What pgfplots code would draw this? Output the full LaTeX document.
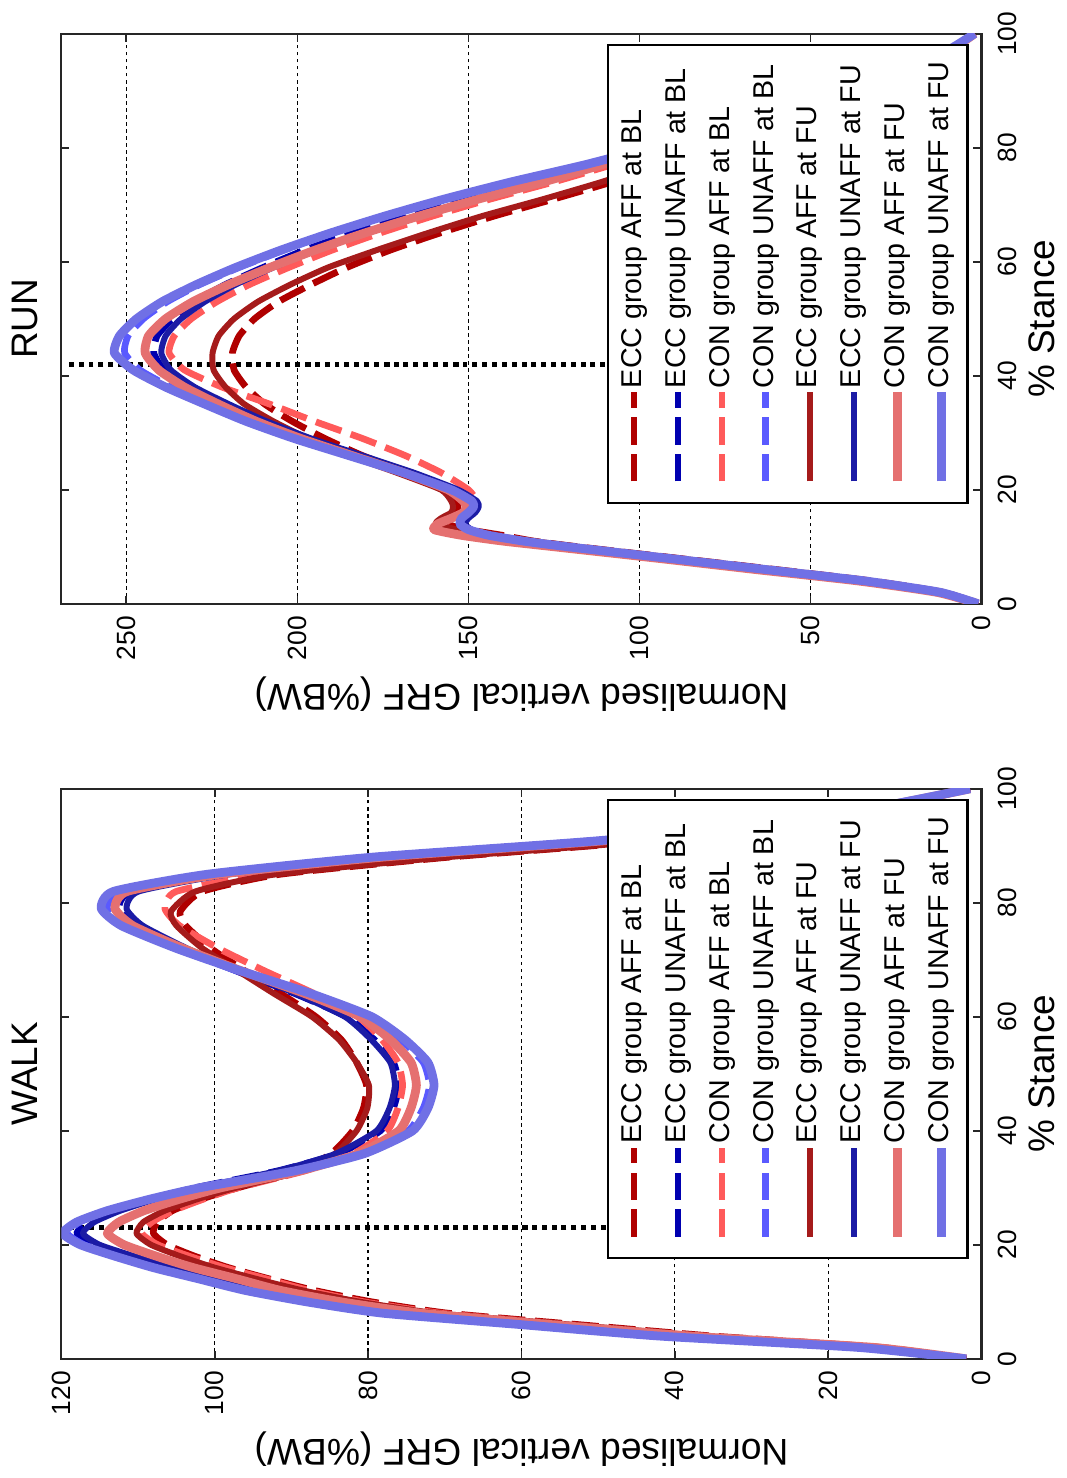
\documentclass[border=0pt]{standalone}
\usepackage{pgfplots}
\pgfplotsset{compat=1.18}
\usepackage{fontspec}
\setmainfont{Liberation Sans}

\definecolor{eccaffbl}{RGB}{176,0,0}
\definecolor{eccunaffbl}{RGB}{0,0,176}
\definecolor{conaffbl}{RGB}{255,90,90}
\definecolor{conunaffbl}{RGB}{90,90,255}
\definecolor{eccafffu}{RGB}{165,27,27}
\definecolor{eccunafffu}{RGB}{27,27,165}
\definecolor{conafffu}{RGB}{229,112,112}
\definecolor{conunafffu}{RGB}{112,112,229}

\pgfplotsset{
  grfaxis/.style={
    scale only axis, width=57mm, height=92mm,
    xmin=0, xmax=100, xtick={0,20,...,100},
    tick align=inside, major tick length=0.8mm,
    axis line style={line width=0.6pt, black!85},
    every tick/.style={black!85, line width=0.5pt},
    ymajorgrids, grid style={black, line width=0.35pt, dash pattern=on 1pt off 1pt},
    tick label style={font=\fontsize{7.5}{9}\selectfont},
    xticklabel style={yshift=-0.4mm},
    /pgf/number format/assume math mode=true,
    every axis title/.style={at={(axis description cs:0.5,1.04)}, anchor=center,
      font=\fontsize{10.5}{12}\selectfont},
    xlabel={\% Stance}, ylabel={Normalised vertical GRF (\%BW)},
    every axis x label/.style={at={(axis description cs:0.5,-0.066)}, anchor=center,
      font=\fontsize{10.5}{12}\selectfont},
    every axis y label/.style={at={(axis description cs:-0.158,0.5)}, rotate=90, anchor=center,
      font=\fontsize{10.6}{13}\selectfont},
    legend style={at={(axis description cs:0.9825,0.0141)}, anchor=south east,
      font=\fontsize{8.15}{10}\selectfont, draw=black, line width=0.6pt, fill=white,
      inner xsep=1.7mm, inner ysep=1.2mm, row sep=4.6pt, column sep=0pt,
      nodes={inner sep=0pt, text height=6pt, text depth=1.9pt}},
    legend cell align=left,
    legend image code/.code={\draw[##1] (0mm,0mm) -- (8.9mm,0mm);},
    every axis plot/.append style={smooth, tension=0.35, line join=round},
  },
  s1/.style={eccaffbl, line width=1.9pt, dash pattern=on 7.7pt off 2.8pt},
  s2/.style={eccunaffbl, line width=1.9pt, dash pattern=on 7.7pt off 2.8pt},
  s3/.style={conaffbl, line width=1.9pt, dash pattern=on 7.7pt off 2.8pt},
  s4/.style={conunaffbl, line width=1.9pt, dash pattern=on 7.7pt off 2.8pt},
  s5/.style={eccafffu, line width=1.7pt},
  s6/.style={eccunafffu, line width=1.7pt},
  s7/.style={conafffu, line width=2.5pt},
  s8/.style={conunafffu, line width=2.5pt},
  peakline/.style={black, line width=1.4pt, dash pattern=on 1.4pt off 1.4pt, forget plot},
}

\begin{document}
\begin{tikzpicture}[rotate=90, transform shape]
% ---------------- WALK ----------------
\begin{axis}[grfaxis, at={(0,0)}, anchor=south west,
  title={WALK}, ymin=0, ymax=120, ytick={0,20,...,120}]
\addplot[peakline] coordinates {(23,49) (23,119)};
% ECC group AFF at BL
\addplot[s1] coordinates {(0,2) (2,13) (4,35) (6,52.5) (8,69.5) (10,79.5) (12,87) (14,92.8) (16,98.2) (18,102.6) (20,106.2) (22,108) (24,107.5) (26,105.5) (28,101.8) (30,97) (33,89) (36,84.8) (40,82) (44,80.6) (48,80.2) (52,81.5) (56,83.5) (60,86.8) (64,91.3) (68,96) (72,100.5) (76,103.8) (78.5,104.5) (82,101.6) (85,91.5) (88,69.5) (91,42) (95,18) (100,1.5)};
% ECC group UNAFF at BL
\addplot[s2] coordinates {(0,2) (2,15.8) (4,41.4) (6,59.1) (8,76.8) (10,86.7) (12,94.6) (14,100.5) (16,106.4) (18,111.3) (20,115.7) (22,118) (24,116.4) (26,113) (28,108.2) (30,102.6) (33,91.7) (36,83.9) (40,78.4) (44,76.7) (48,76) (52,76.7) (56,79.2) (60,82.8) (64,89.4) (68,97.1) (72,104.3) (76,110.3) (79,112.5) (82,110.9) (85,99) (88,77.9) (91,48) (95,20.6) (100,1.5)};
% CON group AFF at BL
\addplot[s3] coordinates {(0,2) (2,13.5) (4,36.5) (6,54) (8,70.5) (10,80.5) (12,87.7) (14,93.2) (16,98.7) (18,103.3) (20,107.4) (22,109.5) (24,108.2) (26,105.4) (28,101.5) (30,97) (33,88.2) (36,81.9) (40,77.5) (44,76.1) (48,75.5) (52,76.1) (56,78.2) (60,81.3) (64,86.9) (68,93.4) (72,99.5) (76,104.6) (79,106.5) (82,105) (85,93.7) (88,73.8) (91,45.5) (95,19.5) (100,1.5)};
% CON group UNAFF at BL
\addplot[s4] coordinates {(0,2) (2,15) (4,40) (6,59) (8,77) (10,87) (12,95) (14,101.5) (16,107.5) (18,112.5) (20,117) (22,119.2) (24,117.6) (26,113.8) (28,108.5) (30,102.2) (33,90) (36,81) (40,74.8) (44,72.8) (48,72) (52,72.8) (56,75.8) (60,80.2) (64,88) (68,97) (72,105) (76,111.5) (79,114) (82,112.4) (85,100.5) (88,79) (91,49) (95,21) (100,1.5)};
% ECC group AFF at FU
\addplot[s5] coordinates {(0,2) (2,13.5) (4,36) (6,53.5) (8,71) (10,81) (12,88.5) (14,94.5) (16,100) (18,104.5) (20,108.3) (22,110.2) (24,109.3) (26,106.5) (28,102.3) (30,97.3) (33,88.5) (36,84.3) (40,81.5) (44,80.1) (48,79.9) (52,81.5) (56,83.8) (60,87.3) (64,92.2) (68,96.9) (72,101.6) (76,105) (78.5,105.7) (82,102.5) (85,92) (88,69.7) (91,42) (95,18) (100,1.5)};
% ECC group UNAFF at FU
\addplot[s6] coordinates {(0,2) (2,15.5) (4,41) (6,58.7) (8,76.3) (10,86) (12,94) (14,99.8) (16,105.6) (18,110.5) (20,115) (22,117.2) (24,115.7) (26,112.3) (28,107.7) (30,102.2) (33,91.7) (36,84.2) (40,78.9) (44,77.2) (48,76.5) (52,77.1) (56,79.6) (60,83) (64,89.3) (68,96.7) (72,103.6) (76,109.4) (79,111.5) (82,109.9) (85,98.1) (88,77.2) (91,47.6) (95,20.4) (100,1.5)};
% CON group AFF at FU
\addplot[s7] coordinates {(0,2) (2,14) (4,38) (6,56) (8,73) (10,83.5) (12,91.4) (14,97) (16,102.8) (18,107.6) (20,111.8) (22,114) (24,112.5) (26,109.2) (28,104.6) (30,99.2) (33,88.8) (36,81.3) (40,76) (44,74.4) (48,73.7) (52,74.4) (56,77.1) (60,81) (64,88.1) (68,96.4) (72,104.1) (76,110.7) (79,113) (82,111.4) (85,99.4) (88,78.2) (91,48.2) (95,20.7) (100,1.5)};
% CON group UNAFF at FU
\addplot[s8] coordinates {(0,2) (2,16) (4,42) (6,60) (8,78) (10,88) (12,96) (14,102) (16,108) (18,113) (20,117.5) (22,119.8) (24,118) (26,114) (28,108.5) (30,102) (33,89.5) (36,80.5) (40,74.2) (44,72.2) (48,71.4) (52,72.2) (56,75.2) (60,79.5) (64,87.3) (68,96.5) (72,105) (76,112.2) (79,114.8) (82,113.2) (85,101) (88,79.5) (91,49) (95,21) (100,1.5)};
\legend{ECC group AFF at BL, ECC group UNAFF at BL, CON group AFF at BL, CON group UNAFF at BL, ECC group AFF at FU, ECC group UNAFF at FU, CON group AFF at FU, CON group UNAFF at FU}
\end{axis}
% ---------------- RUN ----------------
\begin{axis}[grfaxis, at={(75.5mm,0)}, anchor=south west,
  title={RUN}, ymin=0, ymax=269, ytick={0,50,...,250}]
\addplot[peakline] coordinates {(42,110) (42,268)};
% ECC group AFF at BL
\addplot[s1] coordinates {(0,1) (2,11) (4,32) (6,60) (8,89) (10,118) (11,131) (12,140) (13,150) (14,156.5) (15,157) (16,154) (17,153) (18,153.5) (20,156.5) (23,168) (26,181) (29,192) (32,201.5) (35,209.5) (38,215) (41,218.5) (44,219) (47,217) (50,212.5) (53,205.5) (56,196) (59,185.5) (62,173) (65,158.5) (68,142.5) (71,125) (74,108) (77,94) (80,80) (84,60) (88,42) (92,25) (96,11) (100,2)};
% ECC group UNAFF at BL
\addplot[s2] coordinates {(0,1) (2,12) (4,34) (6,63) (8,92) (10,121) (11,134) (12,144) (13,150) (14,152) (15,151) (16,149) (17,148) (18,148.5) (20,154) (23,167.5) (26,183) (29,198) (32,211) (35,222) (38,232) (41,239) (44,242) (47,241) (50,236.5) (53,230) (56,221) (59,210) (62,198) (65,184) (68,168) (71,150.5) (74,132) (77,114) (80,96) (84,73) (88,50) (92,30) (96,13) (100,2)};
% CON group AFF at BL
\addplot[s3] coordinates {(0,1) (2,12) (4,34) (6,63) (8,92) (10,121) (11,134) (12,146) (13,155) (14,157) (15,154) (16,150) (17,148) (18,147.5) (20,150) (23,158) (26,168.5) (29,181) (32,195) (35,208) (38,222) (41,233) (44,237.5) (47,236) (50,231) (53,223.5) (56,214) (59,202.5) (62,190) (65,176) (68,160.5) (71,143.5) (74,125) (77,108) (80,92) (84,70) (88,48) (92,28) (96,12) (100,2)};
% CON group UNAFF at BL
\addplot[s4] coordinates {(0,1) (2,12) (4,34) (6,63) (8,92) (10,121) (11,134) (12,144) (13,150) (14,152) (15,151.5) (16,150) (17,149) (18,149.5) (20,155.5) (23,169.5) (26,185.5) (29,201) (32,214.5) (35,226) (38,237) (41,246) (44,250.5) (47,249.5) (50,245) (53,238) (56,228.5) (59,217) (62,204) (65,190) (68,174) (71,156.5) (74,137) (77,115.5) (80,97) (84,74) (88,51) (92,30) (96,13) (100,2)};
% ECC group AFF at FU
\addplot[s5] coordinates {(0,1) (2,11) (4,32) (6,60) (8,89) (10,118) (11,131) (12,143) (13,153) (14,159.5) (15,158) (16,155) (17,154.5) (18,155) (20,158) (23,171) (26,185) (29,197) (32,207) (35,215.5) (38,221) (41,224.5) (44,224.8) (47,223) (50,218.5) (53,211.5) (56,202) (59,191) (62,177) (65,162) (68,146) (71,128) (74,111) (77,96) (80,82) (84,62) (88,43) (92,26) (96,11) (100,2)};
% ECC group UNAFF at FU
\addplot[s6] coordinates {(0,1) (2,12) (4,34) (6,63) (8,92) (10,121) (11,134) (12,143) (13,149) (14,151) (15,150) (16,148) (17,147) (18,147.5) (20,153) (23,166) (26,181) (29,196) (32,209) (35,220) (38,230) (41,237) (44,239.8) (47,238.5) (50,234) (53,227) (56,218) (59,207) (62,195) (65,181) (68,165.5) (71,148) (74,130) (77,112) (80,95) (84,72) (88,50) (92,30) (96,13) (100,2)};
% CON group AFF at FU
\addplot[s7] coordinates {(0,1) (2,13) (4,36) (6,66) (8,95) (10,125) (11,140) (12,152) (13,160) (14,159) (15,155) (16,151.5) (17,150.5) (18,151.5) (20,156) (23,169) (26,184) (29,199) (32,212) (35,223) (38,233) (41,240.5) (44,244.5) (47,243.5) (50,238.5) (53,230.5) (56,220) (59,208) (62,195) (65,180.5) (68,164.5) (71,147) (74,128) (77,111) (80,94) (84,71) (88,49) (92,29) (96,12) (100,2)};
% CON group UNAFF at FU
\addplot[s8] coordinates {(0,1) (2,12) (4,34) (6,63) (8,92) (10,121) (11,134) (12,144) (13,150) (14,152.5) (15,152) (16,150) (17,148.5) (18,149) (20,155) (23,169) (26,185) (29,201) (32,215) (35,227) (38,238.5) (41,248) (44,253.5) (47,252) (50,247) (53,239.5) (56,229.5) (59,218) (62,205) (65,190.5) (68,174.5) (71,157) (74,137.5) (77,116) (80,97) (84,74) (88,51) (92,30) (96,13) (100,2)};
\legend{ECC group AFF at BL, ECC group UNAFF at BL, CON group AFF at BL, CON group UNAFF at BL, ECC group AFF at FU, ECC group UNAFF at FU, CON group AFF at FU, CON group UNAFF at FU}
\end{axis}
\end{tikzpicture}
\end{document}
